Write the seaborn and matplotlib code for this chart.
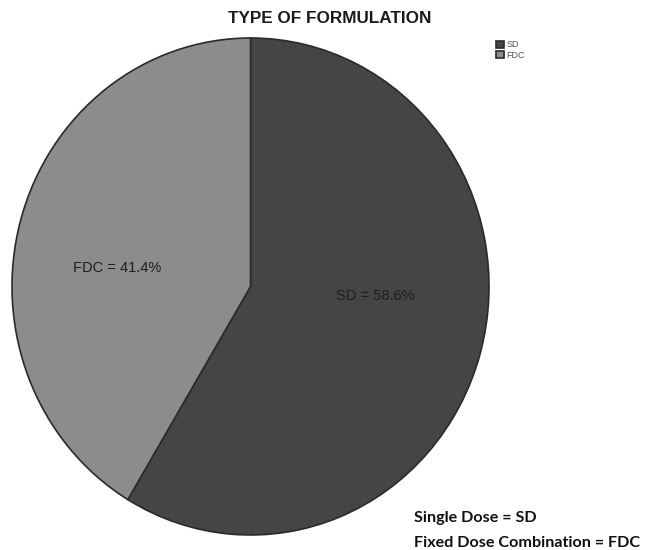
import matplotlib
matplotlib.use("Agg")
import matplotlib.pyplot as plt
import seaborn as sns

sns.set_theme(style="white")
plt.rcParams["font.family"] = ["Liberation Sans", "DejaVu Sans"]

categories = ["SD", "FDC"]
shares = [58.6, 41.4]
colors = ["#454545", "#8c8c8c"]

fig = plt.figure(figsize=(6.49, 5.5), dpi=100)
fig.patch.set_facecolor("white")

ax = fig.add_axes([0.0185, 0.0273, 0.735, 0.9036])
wedges, _, autotexts = ax.pie(
    shares,
    colors=colors,
    startangle=90,
    counterclock=False,
    radius=1.0,
    autopct=lambda p: "",
    wedgeprops=dict(edgecolor="#2a2a2a", linewidth=1.2),
)
ax.set_aspect("auto")
ax.set_xlim(-1.0, 1.0)
ax.set_ylim(-1.0, 1.0)
ax.axis("off")

# value labels inside the slices
label_pos = [(0.525, -0.04), (-0.56, 0.075)]
for name, val, t, (x, y) in zip(categories, shares, autotexts, label_pos):
    t.set_text(f"{name} = {val:.1f}%")
    t.set_position((x, y))
    t.set_fontsize(10.5)
    t.set_color("#1e1e1e")
    t.set_ha("center")
    t.set_va("center")

fig.text(0.508, 0.967, "TYPE OF FORMULATION", ha="center", va="center",
         fontsize=12.3, fontweight="bold", color="#1a1a1a")

leg = fig.legend(wedges, categories, loc="upper left",
                 bbox_to_anchor=(0.758, 0.935), frameon=False,
                 fontsize=6.5, handlelength=0.85, handleheight=0.85,
                 handletextpad=0.25, labelspacing=0.15, borderpad=0)
for txt in leg.get_texts():
    txt.set_color("#555555")

fig.text(0.638, 0.058, "Single Dose = SD", ha="left", va="center",
         fontsize=11.6, fontweight="bold", color="#111111",
         family=["Lato", "DejaVu Sans"])
fig.text(0.638, 0.013, "Fixed Dose Combination = FDC", ha="left", va="center",
         fontsize=11.6, fontweight="bold", color="#111111",
         family=["Lato", "DejaVu Sans"])

fig.savefig("out.png", dpi=100, facecolor="white")
